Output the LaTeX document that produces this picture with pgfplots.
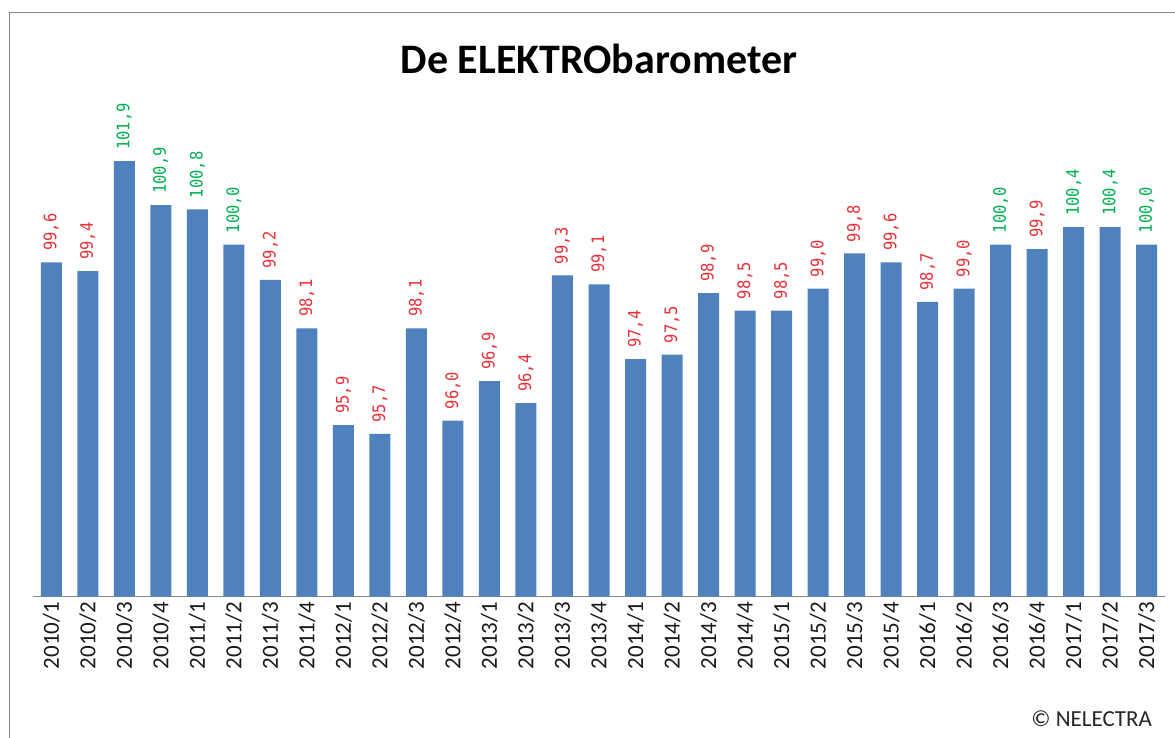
\documentclass[border=0pt]{standalone}
\usepackage{pgfplots}
\pgfplotsset{compat=1.18}
\usepackage{fontspec}
\setmainfont{Carlito}
\newfontfamily\monofont[FakeStretch=0.9]{DejaVu Sans Mono}
\definecolor{barblue}{RGB}{79,129,189}
\definecolor{lblred}{RGB}{232,48,56}
\definecolor{lblgreen}{RGB}{0,176,80}
\definecolor{framegray}{RGB}{134,134,134}

\pgfplotstableread{
x y
0 99.6
1 99.4
6 99.2
7 98.1
8 95.9
9 95.7
10 98.1
11 96.0
12 96.9
13 96.4
14 99.3
15 99.1
16 97.4
17 97.5
18 98.9
19 98.5
20 98.5
21 99.0
22 99.8
23 99.6
24 98.7
25 99.0
27 99.9
}\redtable

\pgfplotstableread{
x y
2 101.9
3 100.9
4 100.8
5 100.0
26 100.0
28 100.4
29 100.4
30 100.0
}\greentable

\begin{document}
\begin{tikzpicture}
\useasboundingbox (0,0) rectangle (587.5pt,369pt);
\draw[framegray, line width=0.6pt] (4.75pt,0) -- (4.75pt,362.75pt) -- (587.5pt,362.75pt);
\node[font=\bfseries\fontsize{21}{24}\selectfont] at (299.5pt,339.5pt) {De ELEKTRObarometer};
\node[anchor=east, font=\fontsize{11.5}{14}\selectfont, text=black!85] at (579.5pt,9.5pt) {© NELECTRA};
\begin{axis}[
  at={(16.5pt,70.65pt)}, anchor=south west,
  width=566pt, height=264pt, scale only axis,
  xmin=-0.5, xmax=30.5, ymin=92, ymax=104,
  axis x line*=bottom, hide y axis,
  axis line style={draw=framegray, line width=0.8pt},
  ytick=\empty,
  xtick={0,...,30},
  xticklabels={2010/1,2010/2,2010/3,2010/4,2011/1,2011/2,2011/3,2011/4,2012/1,2012/2,2012/3,2012/4,2013/1,2013/2,2013/3,2013/4,2014/1,2014/2,2014/3,2014/4,2015/1,2015/2,2015/3,2015/4,2016/1,2016/2,2016/3,2016/4,2017/1,2017/2,2017/3},
  xticklabel style={rotate=90, anchor=east, font=\fontsize{11.5}{14}\selectfont, text=black!90, inner sep=2.5pt},
  major tick length=0pt,
  ybar, bar width=10.5pt, bar shift=0pt,
  clip=false,
  /pgf/number format/.cd, fixed, fixed zerofill, precision=1, use comma, assume math mode=true,
  /pgfplots/.cd,
  nodes near coords,
  nodes near coords style={rotate=90, anchor=west, font=\monofont\fontsize{8.6}{10}\selectfont, inner xsep=5.5pt, inner ysep=0pt},
]
\addplot[fill=barblue, draw=none, nodes near coords style={text=lblred}] table[x=x,y=y] {\redtable};
\addplot[fill=barblue, draw=none, nodes near coords style={text=lblgreen}] table[x=x,y=y] {\greentable};
\end{axis}
\end{tikzpicture}
\end{document}
